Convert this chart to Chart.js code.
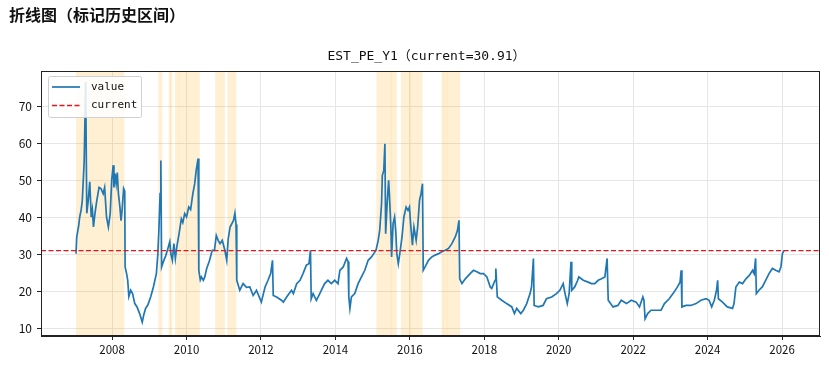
<!DOCTYPE html>
<html>
<head>
<meta charset="utf-8">
<script src="https://cdn.jsdelivr.net/npm/chart.js@4.4.1/dist/chart.umd.min.js"></script>
<style>
body { margin: 0; background: #fff; }
#wrap { position: relative; width: 829px; height: 368px; }
#heading { position: absolute; left: 9px; top: 6px; font: bold 16px "Noto Sans CJK SC"; line-height: 16px; color: #111; }
canvas { position: absolute; left: 0; top: 0; }
</style>
</head>
<body>
<div id="wrap">
  <canvas id="chart" width="829" height="368"></canvas>
  <div id="heading">折线图（标记历史区间）</div>
</div>
<script>
// series (x = decimal year)
const dates = [
  2007.03, 2007.05, 2007.10, 2007.13, 2007.17, 2007.20, 2007.25, 2007.29, 2007.32, 2007.36,
  2007.40, 2007.44, 2007.47, 2007.50, 2007.54, 2007.59, 2007.65, 2007.70, 2007.76, 2007.80,
  2007.85, 2007.90, 2007.95, 2007.99, 2008.03, 2008.05, 2008.08, 2008.11, 2008.14, 2008.17,
  2008.21, 2008.24, 2008.27, 2008.31, 2008.34, 2008.35, 2008.39, 2008.42, 2008.45, 2008.50,
  2008.55, 2008.61, 2008.67, 2008.74, 2008.81, 2008.85, 2008.90, 2008.96, 2009.04, 2009.11,
  2009.19, 2009.23, 2009.26, 2009.29, 2009.31, 2009.33, 2009.38, 2009.44, 2009.50, 2009.55,
  2009.58, 2009.62, 2009.66, 2009.70, 2009.74, 2009.80, 2009.86, 2009.90, 2009.95, 2010.00,
  2010.06, 2010.11, 2010.17, 2010.22, 2010.26, 2010.31, 2010.33, 2010.37, 2010.40, 2010.45,
  2010.49, 2010.54, 2010.62, 2010.69, 2010.75, 2010.80, 2010.85, 2010.90, 2010.96, 2011.03,
  2011.08, 2011.12, 2011.17, 2011.26, 2011.30, 2011.33, 2011.35, 2011.43, 2011.52, 2011.61,
  2011.70, 2011.79, 2011.88, 2012.01, 2012.11, 2012.19, 2012.26, 2012.31, 2012.33, 2012.42,
  2012.55, 2012.60, 2012.69, 2012.82, 2012.87, 2012.96, 2013.05, 2013.13, 2013.22, 2013.29,
  2013.33, 2013.35, 2013.40, 2013.49, 2013.58, 2013.71, 2013.80, 2013.89, 2013.98, 2014.07,
  2014.12, 2014.21, 2014.30, 2014.34, 2014.36, 2014.39, 2014.43, 2014.52, 2014.61, 2014.70,
  2014.79, 2014.88, 2014.97, 2015.03, 2015.09, 2015.15, 2015.19, 2015.24, 2015.26, 2015.30,
  2015.33, 2015.35, 2015.39, 2015.43, 2015.45, 2015.49, 2015.51, 2015.55, 2015.59, 2015.62,
  2015.65, 2015.69, 2015.73, 2015.79, 2015.84, 2015.90, 2015.95, 2015.99, 2016.02, 2016.07,
  2016.11, 2016.17, 2016.21, 2016.26, 2016.30, 2016.34, 2016.36, 2016.41, 2016.50, 2016.59,
  2016.68, 2016.77, 2016.86, 2016.95, 2017.04, 2017.13, 2017.22, 2017.28, 2017.32, 2017.34,
  2017.40, 2017.49, 2017.62, 2017.71, 2017.80, 2017.89, 2017.98, 2018.07, 2018.16, 2018.20,
  2018.29, 2018.31, 2018.35, 2018.47, 2018.60, 2018.74, 2018.81, 2018.87, 2018.98, 2019.05,
  2019.14, 2019.23, 2019.27, 2019.32, 2019.34, 2019.45, 2019.58, 2019.67, 2019.81, 2019.94,
  2020.03, 2020.12, 2020.17, 2020.23, 2020.28, 2020.33, 2020.35, 2020.43, 2020.51, 2020.54,
  2020.66, 2020.79, 2020.88, 2020.97, 2021.06, 2021.15, 2021.24, 2021.30, 2021.33, 2021.46,
  2021.59, 2021.68, 2021.82, 2021.95, 2022.08, 2022.17, 2022.26, 2022.29, 2022.32, 2022.39,
  2022.48, 2022.61, 2022.75, 2022.84, 2022.97, 2023.10, 2023.19, 2023.26, 2023.29, 2023.31,
  2023.42, 2023.55, 2023.69, 2023.82, 2023.96, 2024.04, 2024.11, 2024.18, 2024.24, 2024.27,
  2024.29, 2024.40, 2024.53, 2024.67, 2024.71, 2024.76, 2024.85, 2024.94, 2025.03, 2025.12,
  2025.21, 2025.25, 2025.29, 2025.31, 2025.38, 2025.47, 2025.56, 2025.65, 2025.74, 2025.83,
  2025.92, 2025.97, 2026.01, 2026.05
]
const values = [
  30.1, 34.6, 37.5, 40.0, 42.0, 44.5, 55.0, 76.5, 41.0, 44.5,
  49.5, 40.0, 42.0, 37.3, 41.0, 44.5, 48.0, 47.7, 46.3, 48.0,
  40.0, 37.3, 41.0, 50.0, 54.0, 48.0, 51.7, 49.0, 52.0, 46.3,
  42.7, 39.0, 42.0, 47.7, 47.0, 26.5, 24.7, 22.9, 18.5, 20.2,
  19.3, 16.6, 15.7, 13.9, 11.6, 13.5, 15.3, 16.2, 18.5, 21.1,
  24.7, 30.1, 37.3, 46.3, 55.3, 26.5, 28.0, 29.5, 31.5, 33.3,
  30.0, 28.3, 32.8, 28.8, 32.0, 35.5, 39.5, 38.5, 40.9, 40.0,
  42.7, 42.0, 46.3, 49.0, 52.6, 55.8, 25.6, 23.0, 23.8, 22.9,
  23.8, 26.0, 28.3, 31.0, 31.0, 35.0, 33.7, 32.8, 33.7, 31.0,
  28.3, 34.0, 37.3, 39.0, 41.0, 38.0, 22.9, 20.2, 22.0, 21.0,
  21.1, 18.8, 20.2, 17.0, 21.1, 22.9, 24.7, 28.3, 18.8, 18.4,
  17.5, 17.0, 18.4, 20.2, 19.3, 22.0, 22.9, 24.7, 27.0, 27.4,
  31.0, 17.9, 19.3, 17.5, 19.3, 22.0, 22.9, 22.0, 22.9, 22.0,
  25.6, 26.5, 28.8, 28.0, 18.4, 15.3, 18.4, 19.3, 22.0, 23.8,
  25.6, 28.3, 29.2, 30.1, 31.0, 33.7, 36.4, 43.6, 51.2, 52.6,
  59.8, 35.5, 43.6, 49.9, 46.3, 37.3, 29.2, 38.2, 40.0, 36.4,
  30.1, 27.4, 30.1, 34.6, 40.0, 42.7, 41.8, 42.7, 38.2, 32.4,
  37.3, 33.7, 37.3, 44.5, 46.3, 49.0, 25.6, 26.5, 28.3, 29.2,
  29.7, 30.1, 30.6, 31.0, 31.5, 32.8, 34.6, 36.4, 39.1, 23.3,
  22.0, 23.3, 24.7, 25.6, 25.2, 24.7, 24.7, 23.8, 21.1, 20.7,
  22.9, 26.1, 18.4, 17.5, 16.6, 15.7, 13.9, 15.3, 13.9, 14.8,
  16.6, 19.3, 21.1, 28.8, 16.1, 15.7, 16.1, 17.9, 18.4, 19.3,
  20.2, 22.0, 19.3, 16.6, 19.3, 27.9, 20.2, 21.1, 22.9, 23.8,
  22.9, 22.4, 22.0, 22.0, 22.9, 23.3, 23.8, 28.8, 17.5, 15.7,
  16.1, 17.5, 16.6, 17.5, 17.0, 15.7, 18.4, 17.5, 12.5, 13.9,
  14.8, 14.8, 14.8, 16.6, 17.9, 19.7, 21.1, 22.4, 25.6, 15.7,
  16.1, 16.1, 16.6, 17.5, 17.9, 17.5, 15.7, 17.5, 20.2, 22.9,
  17.9, 17.0, 15.7, 15.3, 16.6, 21.1, 22.4, 22.0, 23.3, 24.2,
  25.6, 24.7, 28.8, 19.3, 20.2, 21.1, 22.9, 24.7, 26.1, 25.6,
  25.2, 26.5, 30.1, 30.91
]
const current = 30.91
const seriesTitle = 'EST_PE_Y1（current=' + current + '）'

// shaded history ranges (decimal years)
const bandStart = [2007.03, 2009.24, 2009.52, 2009.56, 2009.69, 2009.80, 2010.77, 2011.10,
                   2015.10, 2015.49, 2015.76, 2016.01, 2016.85, 2016.89, 2016.99]
const bandEnd   = [2008.33, 2009.35, 2009.58, 2009.62, 2009.81, 2010.36, 2011.03, 2011.34,
                   2015.51, 2015.65, 2016.03, 2016.34, 2016.91, 2017.01, 2017.35]

// axes
const xMin = 2006.09
const xMax = 2027.02
const yMin = 7.84
const yMax = 79.46
const xTicks = [2008, 2010, 2012, 2014, 2016, 2018, 2020, 2022, 2024, 2026]
const yTicks = [10, 20, 30, 40, 50, 60, 70]

let chart = null

const extras = {
    id: 'extras',
    beforeDatasetsDraw(chart) {
        const {ctx, chartArea, scales} = chart
        ctx.save()
        ctx.beginPath()
        ctx.rect(chartArea.left, chartArea.top, chartArea.width, chartArea.height)
        ctx.clip()
        ctx.fillStyle = 'rgba(255,165,0,0.17)'
        for (let i = 0; i < bandStart.length; i++) {
            const x1 = scales.x.getPixelForValue(bandStart[i])
            const x2 = scales.x.getPixelForValue(bandEnd[i])
            ctx.fillRect(x1, chartArea.top, x2 - x1, chartArea.height)
        }
        ctx.restore()
    },
    afterDraw(chart) {
        const {ctx, chartArea} = chart
        ctx.save()
        // frame
        ctx.strokeStyle = '#222'
        ctx.lineWidth = 1
        ctx.strokeRect(chartArea.left + 0.5, chartArea.top + 0.5, chartArea.width - 1, chartArea.height - 1)
        // title over the axes
        ctx.fillStyle = '#111'
        ctx.font = '13px "DejaVu Sans Mono", "Noto Sans CJK SC"'
        ctx.textAlign = 'center'
        ctx.textBaseline = 'middle'
        ctx.fillText(seriesTitle, (chartArea.left + chartArea.right) / 2 - 4, chartArea.top - 14)
        // legend box
        ctx.textAlign = 'left'
        const bx = chartArea.left + 7, by = chartArea.top + 5
        ctx.fillStyle = 'rgba(255,255,255,0.85)'
        ctx.strokeStyle = '#d0d0d0'
        ctx.beginPath()
        ctx.roundRect(bx + 0.5, by + 0.5, 93, 41, 2)
        ctx.fill()
        ctx.stroke()
        ctx.font = '11px "DejaVu Sans Mono"'
        const sets = chart.data.datasets
        for (let i = 0; i < sets.length; i++) {
            const y = by + 11 + i * 18.5
            ctx.strokeStyle = sets[i].borderColor
            ctx.lineWidth = sets[i].borderWidth
            ctx.setLineDash(sets[i].borderDash || [])
            ctx.beginPath()
            ctx.moveTo(bx + 4, y)
            ctx.lineTo(bx + 32, y)
            ctx.stroke()
            ctx.setLineDash([])
            ctx.fillStyle = '#111'
            ctx.fillText(sets[i].label, bx + 43, y)
        }
        ctx.restore()
    }
}

function initChart() {
    const ctx = document.getElementById('chart').getContext('2d')
    const points = dates.map((d, i) => ({x: d, y: values[i]}))
    chart = new Chart(ctx, {
        type: 'line',
        data: {
            datasets: [
                {
                    label: 'value',
                    data: points,
                    borderColor: '#1f77b4',
                    borderWidth: 1.7,
                    pointRadius: 0,
                    tension: 0,
                    order: 2
                },
                {
                    label: 'current',
                    data: [{x: xMin, y: current}, {x: xMax, y: current}],
                    borderColor: '#e8141c',
                    borderWidth: 1.3,
                    borderDash: [5, 2.5],
                    pointRadius: 0,
                    order: 1
                }
            ]
        },
        options: {
            responsive: false,
            animation: false,
            layout: {padding: {left: 0, right: 9, top: 71, bottom: 0}},
            plugins: {
                legend: {display: false},
                tooltip: {enabled: false},
                title: {display: false}
            },
            scales: {
                x: {
                    type: 'linear',
                    min: xMin,
                    max: xMax,
                    afterBuildTicks: s => { s.ticks = xTicks.map(v => ({value: v})) },
                    afterFit: s => { s.height = 32 },
                    ticks: {
                        callback: v => String(v),
                        color: '#111',
                        padding: 3,
                        maxRotation: 0,
                        font: {family: '"Noto Sans CJK SC"', size: 11.5}
                    },
                    grid: {color: '#e6e6e6', tickColor: '#222', tickLength: 4},
                    border: {color: '#222'}
                },
                y: {
                    min: yMin,
                    max: yMax,
                    afterBuildTicks: s => { s.ticks = yTicks.map(v => ({value: v})) },
                    afterFit: s => { s.width = 41 },
                    ticks: {
                        color: '#111',
                        padding: 5,
                        font: {family: '"Noto Sans CJK SC"', size: 12}
                    },
                    grid: {color: '#e6e6e6', tickColor: '#222', tickLength: 4},
                    border: {color: '#222'}
                }
            }
        },
        plugins: [extras]
    })
}

initChart()
</script>
</body>
</html>
